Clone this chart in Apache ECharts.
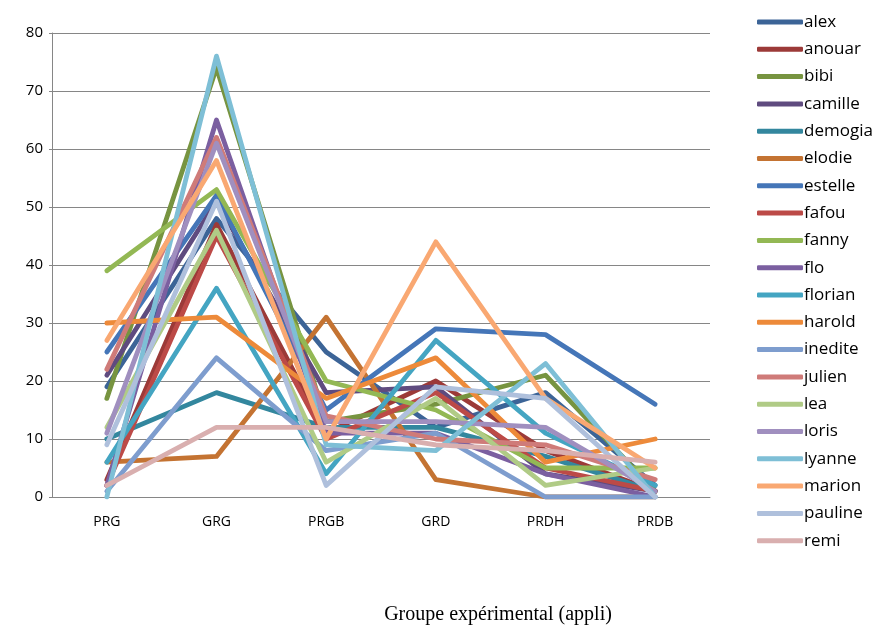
<!DOCTYPE html>
<html>
<head>
<meta charset="utf-8">
<script src="https://cdn.jsdelivr.net/npm/echarts@6/dist/echarts.min.js"></script>
<style>
  html, body { margin: 0; padding: 0; background: #fff; }
  #chart { width: 891px; height: 626px; }
</style>
</head>
<body>
<div id="chart"></div>
<script>
const categories = ['PRG', 'GRG', 'PRGB', 'GRD', 'PRDH', 'PRDB']
const yTicks = [0, 10, 20, 30, 40, 50, 60, 70, 80]

const alex = [19, 48, 25, 12, 18, 2]
const anouar = [3, 47, 11, 20, 8, 1]
const bibi = [17, 74, 13, 16, 21, 1]
const camille = [21, 51, 18, 19, 4, 1]
const demogia = [10, 18, 12, 12, 7, 1]
const elodie = [6, 7, 31, 3, 0, 0]
const estelle = [25, 52, 15, 29, 28, 16]
const fafou = [2, 45, 10, 18, 5, 1]
const fanny = [39, 53, 20, 15, 5, 5]
const flo = [2, 65, 11, 11, 4, 0]
const florian = [6, 36, 4, 27, 11, 2]
const harold = [30, 31, 17, 24, 6, 10]
const inedite = [1, 24, 8, 11, 0, 0]
const julien = [22, 62, 14, 10, 9, 3]
const lea = [12, 46, 6, 17, 2, 5]
const loris = [11, 61, 13, 13, 12, 1]
const lyanne = [0, 76, 9, 8, 23, 0]
const marion = [27, 58, 10, 44, 17, 5]
const pauline = [9, 51, 2, 19, 17, 0]
const remi = [2, 12, 12, 9, 8, 6]

const SERIES = [
  ['alex', alex, '#3C6497'],
  ['anouar', anouar, '#9C3A38'],
  ['bibi', bibi, '#779440'],
  ['camille', camille, '#5F4B7F'],
  ['demogia', demogia, '#33879E'],
  ['elodie', elodie, '#C47332'],
  ['estelle', estelle, '#4576B8'],
  ['fafou', fafou, '#BC4A47'],
  ['fanny', fanny, '#93B854'],
  ['flo', flo, '#7B5FA0'],
  ['florian', florian, '#44A5C2'],
  ['harold', harold, '#ED8A3A'],
  ['inedite', inedite, '#7E9DCE'],
  ['julien', julien, '#CF7B79'],
  ['lea', lea, '#B0CB86'],
  ['loris', loris, '#A08FBF'],
  ['lyanne', lyanne, '#7EBFD6'],
  ['marion', marion, '#F9A872'],
  ['pauline', pauline, '#AFC0DC'],
  ['remi', remi, '#D9AFAF']
]

const axisGray = '#868686'

const chart = echarts.init(document.getElementById('chart'))
chart.setOption({
  animation: false,
  grid: { left: 52, right: 181, top: 33, bottom: 129 },
  legend: {
    orient: 'vertical',
    left: 752,
    top: 7,
    itemWidth: 46,
    itemHeight: 5,
    itemGap: 7.3,
    icon: 'roundRect',
    textStyle: { fontFamily: 'Open Sans', fontSize: 17, color: '#000', lineHeight: 20, padding: [0, 0, 0, -4] },
    data: SERIES.map(s => s[0])
  },
  xAxis: {
    type: 'category',
    data: categories,
    boundaryGap: true,
    axisLine: { lineStyle: { color: axisGray, width: 1 } },
    axisTick: { length: 5, lineStyle: { color: axisGray } },
    axisLabel: { color: '#000', fontFamily: 'Open Sans', fontSize: 14, margin: 18 }
  },
  yAxis: {
    type: 'value',
    min: yTicks[0],
    max: yTicks[yTicks.length - 1],
    interval: 10,
    axisLine: { show: true, lineStyle: { color: axisGray, width: 1 } },
    axisTick: { show: true, length: 3, lineStyle: { color: axisGray } },
    splitLine: { lineStyle: { color: axisGray, width: 1 } },
    axisLabel: { color: '#000', fontFamily: 'Open Sans', fontSize: 15, margin: 9 }
  },
  graphic: [{
    type: 'text',
    x: 498,
    y: 615,
    style: {
      text: 'Groupe expérimental (appli)',
      font: '20px "Liberation Serif"',
      fill: '#000',
      align: 'center',
      verticalAlign: 'middle'
    }
  }],
  series: SERIES.map(([name, data, color]) => ({
    name,
    type: 'line',
    data,
    symbol: 'none',
    color,
    lineStyle: { width: 4.8, color, cap: 'round', join: 'round' }
  }))
})
</script>
</body>
</html>
